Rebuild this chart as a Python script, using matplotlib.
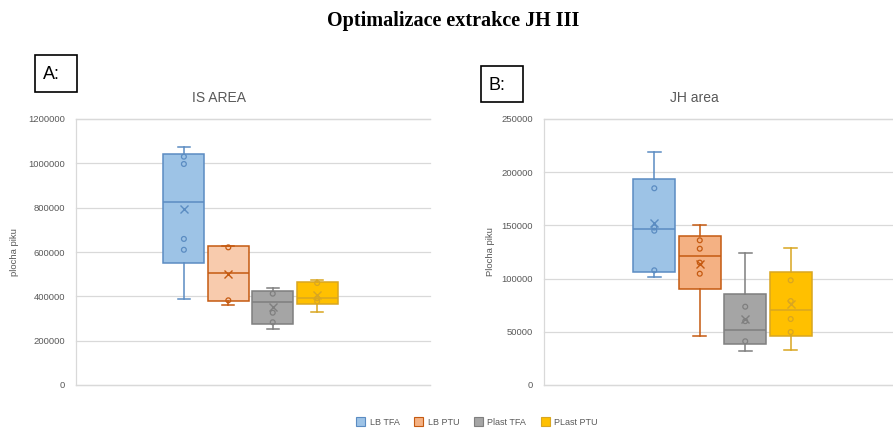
import matplotlib
matplotlib.use("Agg")
import matplotlib.pyplot as plt
from matplotlib.patches import Rectangle

plt.rcParams['font.family'] = ['Liberation Sans', 'DejaVu Sans']

series = ["LB TFA", "LB PTU", "Plast TFA", "PLast PTU"]

# Panel A: IS AREA
a_whislo = [389000, 362000, 252600, 328000]
a_q1 = [552000, 379000, 275000, 367000]
a_med = [824000, 504000, 373000, 394000]
a_q3 = [1042000, 627000, 425400, 463000]
a_whishi = [1075000, 627000, 437600, 475000]
a_mean = [792600, 502000, 350500, 406000]
a_points = [[1030000, 997000, 659000, 610000],
            [621000, 382000],
            [412000, 326000, 283000],
            [460000, 391000, 378000]]

# Panel B: JH area
b_whislo = [101200, 45700, 32200, 33200]
b_q1 = [106200, 90200, 38800, 45800]
b_med = [146600, 121000, 51400, 70500]
b_q3 = [193600, 140300, 85500, 105900]
b_whishi = [218700, 150100, 123800, 128800]
b_mean = [152000, 113400, 61700, 76100]
b_points = [[184900, 148000, 145000, 107800],
            [136000, 128100, 115000, 104600],
            [73600, 60000, 41100],
            [98400, 78900, 62000, 49800]]

a_fill = ["#9DC3E6", "#F8CBAD", "#A5A5A5", "#FFC000"]
b_fill = ["#9DC3E6", "#F4B183", "#A5A5A5", "#FFC000"]
edges = ["#5B8CC2", "#C55A11", "#7F7F7F", "#D9A621"]

W, H = 893, 428
fig = plt.figure(figsize=(W / 100, H / 100), dpi=100)


def px_axes(x0, y0, x1, y1):
    return fig.add_axes([x0 / W, 1 - y1 / H, (x1 - x0) / W, (y1 - y0) / H])


def draw_panel(ax, whislo, q1, med, q3, whishi, mean, points, fills,
               center, step, ymax, yticks, ylabel):
    stats = []
    for i in range(len(series)):
        stats.append(dict(whislo=whislo[i], q1=q1[i], med=med[i], q3=q3[i],
                          whishi=whishi[i], mean=mean[i], fliers=[],
                          label=series[i]))
    positions = [center + (i - 1.5) * step for i in range(len(series))]
    bw = step * 0.92
    res = ax.bxp(stats, positions=positions, widths=bw, capwidths=bw * 0.3,
                 patch_artist=True, showmeans=True, manage_ticks=False)
    for i in range(len(series)):
        e = edges[i]
        res['boxes'][i].set(facecolor=fills[i], edgecolor=e, linewidth=1.1)
        res['medians'][i].set(color=e, linewidth=1.1)
        for w in res['whiskers'][2 * i:2 * i + 2]:
            w.set(color=e, linewidth=1.1)
        for c in res['caps'][2 * i:2 * i + 2]:
            c.set(color=e, linewidth=1.1)
        res['means'][i].set(marker='x', markeredgecolor=e, markerfacecolor=e,
                            markersize=6, markeredgewidth=1.0)
        ax.scatter([positions[i]] * len(points[i]), points[i], s=12,
                   facecolors='none', edgecolors=e, linewidths=0.9, zorder=4)
    ax.set_xlim(0, 1)
    ax.set_ylim(0, ymax)
    ax.set_yticks(yticks)
    ax.set_yticklabels([str(t) for t in yticks])
    ax.tick_params(axis='y', length=0, labelsize=6.8, labelcolor='#595959', pad=8)
    ax.set_xticks([])
    ax.grid(axis='y', color='#D9D9D9', linewidth=0.9)
    ax.set_axisbelow(True)
    for s in ['top', 'right', 'bottom']:
        ax.spines[s].set_visible(False)
    ax.spines['left'].set_color('#D9D9D9')
    ax.spines['left'].set_linewidth(0.9)
    for g in ax.get_ygridlines():
        g.set_clip_on(False)
    ax.axhline(0, color='#D9D9D9', linewidth=0.9, clip_on=False, zorder=0)
    ax.axhline(ymax, color='#D9D9D9', linewidth=0.9, clip_on=False, zorder=0)
    ax.set_ylabel(ylabel, fontsize=6.8, color='#595959')


axA = px_axes(76, 119, 430, 385)
draw_panel(axA, a_whislo, a_q1, a_med, a_q3, a_whishi, a_mean, a_points, a_fill,
           0.493, 0.1255, 1200000, list(range(0, 1200001, 200000)),
           "plocha piku")
axA.yaxis.set_label_coords(-0.16, 0.5)

axB = px_axes(544, 119, 902, 385)
draw_panel(axB, b_whislo, b_q1, b_med, b_q3, b_whishi, b_mean, b_points, b_fill,
           0.4986, 0.127, 250000, list(range(0, 250001, 50000)),
           "Plocha piku")
axB.yaxis.set_label_coords(-0.138, 0.5)

# Titles
fig.text(453 / W, 1 - 21 / H, "Optimalizace extrakce JH III", ha='center',
         va='center', fontsize=14.5, fontweight='bold', family='Liberation Serif')
fig.text(219.5 / W, 1 - 98 / H, "IS AREA", ha='center', va='center',
         fontsize=10, color='#595959')
fig.text(694 / W, 1 - 98 / H, "JH area", ha='center', va='center',
         fontsize=10, color='#595959')

# Panel labels
for (x0, y0, x1, y1, lab) in [(35, 55, 77, 92, "A:"), (481, 66, 523, 102, "B:")]:
    fig.add_artist(Rectangle((x0 / W, 1 - y1 / H), (x1 - x0) / W, (y1 - y0) / H,
                             transform=fig.transFigure, fill=False,
                             edgecolor='black', linewidth=1.2))
    fig.text((x0 + 8) / W, 1 - ((y0 + y1) / 2 + 1) / H, lab, ha='left',
             va='center', fontsize=13)

# Legend
handles = [Rectangle((0, 0), 1, 1, facecolor=b_fill[i], edgecolor=edges[i],
                     linewidth=0.8) for i in range(len(series))]
fig.legend(handles, series, loc='center', bbox_to_anchor=(477 / W, 1 - 422 / H),
           ncol=4, frameon=False, fontsize=6.5, handlelength=1.0,
           handleheight=1.0, handletextpad=0.5, columnspacing=1.6,
           labelcolor='#595959')

fig.savefig("out.png", dpi=100)
